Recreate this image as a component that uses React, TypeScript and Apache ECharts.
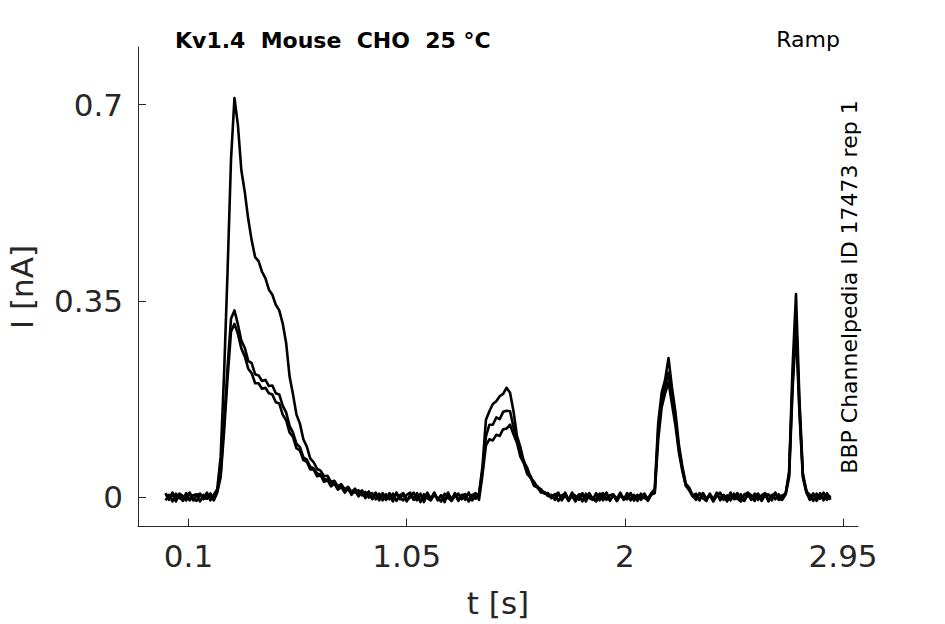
import { useEffect, useRef } from "react";
import * as echarts from "echarts";

// Sampling step of the stored sweeps (s); sweep values are in pA
const DT = 0.015;

const sweepA = [
  6, -5, 8, -3, 5, -7, 2, 7, -6, 3, 6, -4, 8, -6, 4,
  14, 72, 222, 403, 602, 712, 664, 583, 544, 496, 458, 428, 421, 402, 390, 370, 361, 343, 333, 310,
  275, 215, 183, 147, 131, 103, 90, 69, 62, 50, 47, 37, 38, 27, 29, 19, 23, 14, 18, 9, 15, 5, 12, 2, 10, -3, 8, -4, 7, -5,
  7, -6, 8, -4, 6, -8, 4, -3, 7, -9, 5, -2, -6, 8, -4, 3, -9, 6, -3, 5, -7, 4, -5, 8, -6, 2, 6,
  55, 138, 153, 166, 171, 180, 184, 195, 186, 153, 109, 89, 63, 52, 34, 27, 17, 14, 6, 7, -2,
  5, -7, 3, 6, -5, 8, -3, 4, -8, 6, -2, -5, 7, -6, 3, 5, -7, 4, -3, 8, -5, 2, 6, -6, 4, -4, 5, -3, 7,
  14, 132, 186, 209, 248, 195, 152, 94, 55, 24, 17, 3,
  6, -5, 7, -4, 3, -8, 6, -3, 4, -6, 8, -4, -2, 5, -7, 4, -3, 6, -5, 3, 7, -6, 4, -4, 5, -3, 6,
  45, 230, 362, 175, 42, 12,
  -5, 6, -4, 7, -6, 4, -3,
];

const sweepB = [
  -6, 4, -8, 6, -2, -5, 7, -6, 3, 5, -8, 4, -3, 6, -5,
  10, 43, 133, 232, 318, 333, 308, 279, 266, 243, 239, 219, 217, 207, 209, 198, 199, 185, 183, 163,
  151, 127, 115, 95, 89, 71, 67, 54, 51, 42, 40, 32, 31, 24, 24, 19, 18, 14, 13, 10, 8, 12, 3, 9, -1, 7, -4, 6, -6, 5,
  -4, 6, -7, 3, 7, -5, -1, 8, -6, 4, -4, 8, -5, 3, -2, -8, 6, -2, -6, 7, -4, 3, 5, -7, 4, -3, 6,
  47, 108, 129, 129, 142, 139, 152, 154, 153, 125, 103, 76, 65, 43, 37, 20, 19, 9, 9, 2, 4,
  -5, 6, -3, 8, -6, 2, -8, 5, 4, -6, 7, -3, -8, 4, 7, -5, 3, 5, -7, 3, -4, 7, -6, 4, -7, 6, -2, -5, 6,
  9, 117, 174, 197, 222, 178, 139, 86, 50, 22, 14, 2,
  -5, 7, -2, -7, 6, -4, 8, -6, 3, -8, 5, -2, 7, -5, -6, 8, 3, -7, 5, -4, 6, -8, 2, 7, -5, 3, 6,
  40, 205, 322, 160, 38, 10,
  4, -7, 6, -3, 8, -5, 3,
];

const sweepC = [
  7, -3, 5, -8, 6, 2, -6, 8, -4, -7, 5, -2, -3, 6, -6,
  8, 36, 118, 212, 295, 309, 291, 265, 251, 229, 221, 203, 203, 193, 195, 185, 183, 169, 167, 147,
  137, 115, 107, 87, 83, 66, 63, 49, 49, 37, 39, 27, 30, 19, 24, 13, 18, 8, 15, 4, 12, 1, 10, -2, 8, -4, 7, -6, 6, -5,
  5, -8, 7, -2, -6, 4, 8, -5, -3, 6, -9, 5, -2, 7, -6, 3, -5, 8, -7, 2, 6, -4, 5, -8, 3, 7, -5,
  40, 92, 103, 101, 111, 109, 121, 122, 129, 112, 97, 72, 60, 41, 34, 20, 17, 8, 8, 2, 1,
  4, 8, -6, 3, -7, 6, 2, -5, 7, -8, 4, -3, -4, 6, -6, 8, -5, 3, -7, 5, -2, -4, 7, -6, 3, -5, 6, -7, 4,
  7, 102, 160, 185, 205, 166, 128, 80, 47, 20, 12, 1,
  3, -6, 7, -3, 5, -7, 2, 8, -5, 3, -6, 6, -3, -8, 5, 7, -5, 2, 6, -7, 3, 5, -6, 8, -4, -5, 5,
  35, 190, 300, 150, 35, 8,
  -4, 6, -7, 5, -3, 7, -5,
];

const xTicks = [0.1, 1.05, 2, 2.95];
const xTickLabels = ["0.1", "1.05", "2", "2.95"];
const yTicks = [0, 0.35, 0.7];
const yTickLabels = ["0", "0.35", "0.7"];

const titleText = "Kv1.4  Mouse  CHO  25 °C";
const protocolText = "Ramp";
const sourceText = "BBP Channelpedia ID 17473 rep 1";
const xName = "t [s]";
const yName = "I [nA]";

function toPairs(vals: number[]) {
  return vals.map((v, i) => [Number((i * DT).toFixed(4)), v / 1000]);
}

function labelFor(ticks: number[], labels: string[], v: number) {
  const k = ticks.findIndex((t) => Math.abs(t - v) < 1e-6);
  return k >= 0 ? labels[k] : "";
}

export default function App() {
  const ref = useRef<HTMLDivElement>(null);

  useEffect(() => {
    if (!ref.current) return;
    const chart = echarts.init(ref.current, null, { renderer: "svg" });
    const axisColor = "#262626";
    const fam = "'DejaVu Sans', sans-serif";

    const textEl = (
      text: string,
      x: number,
      y: number,
      size: number,
      align: string,
      opts: { bold?: boolean; rotation?: number; color?: string } = {}
    ) => ({
      type: "text",
      x,
      y,
      rotation: opts.rotation || 0,
      silent: true,
      style: {
        text,
        fontSize: size,
        fontFamily: fam,
        fontWeight: opts.bold ? "bold" : "normal",
        fill: opts.color || "#000",
        align,
        verticalAlign: "middle",
        textAlign: align,
        textVerticalAlign: "middle",
      },
    });

    chart.setOption({
      animation: false,
      backgroundColor: "#ffffff",
      grid: { left: 138, right: 87, top: 47, bottom: 97.5, containLabel: false },
      xAxis: {
        type: "value",
        min: -0.12,
        max: 3.015,
        axisLine: { onZero: false, lineStyle: { color: axisColor, width: 1 } },
        axisTick: {
          inside: true,
          length: 8,
          customValues: xTicks,
          lineStyle: { color: axisColor, width: 1 },
        },
        axisLabel: {
          customValues: xTicks,
          formatter: (v: number) => labelFor(xTicks, xTickLabels, v),
          fontSize: 31,
          fontFamily: fam,
          color: axisColor,
          margin: 14,
        },
        splitLine: { show: false },
      },
      yAxis: {
        type: "value",
        min: -0.0526,
        max: 0.803,
        axisLine: { onZero: false, lineStyle: { color: axisColor, width: 1 } },
        axisTick: {
          inside: true,
          length: 8,
          customValues: yTicks,
          lineStyle: { color: axisColor, width: 1 },
        },
        axisLabel: {
          customValues: yTicks,
          formatter: (v: number) => labelFor(yTicks, yTickLabels, v),
          fontSize: 31,
          fontFamily: fam,
          color: axisColor,
          margin: 15,
        },
        splitLine: { show: false },
      },
      series: [sweepA, sweepB, sweepC].map((s) => ({
        type: "line",
        data: toPairs(s),
        showSymbol: false,
        symbol: "none",
        silent: true,
        lineStyle: { color: "#000000", width: 2.6, join: "round" },
      })),
      graphic: [
        textEl(titleText, 175, 40, 22, "left", { bold: true }),
        textEl(protocolText, 840, 39, 22, "right"),
        textEl(sourceText, 849, 287, 22, "center", { rotation: Math.PI / 2 }),
        textEl(yName, 22, 287, 31, "center", { rotation: Math.PI / 2, color: axisColor }),
        textEl(xName, 498, 603, 31, "center", { color: axisColor }),
      ],
    });

    return () => chart.dispose();
  }, []);

  return (
    <div
      ref={ref}
      style={{ position: "absolute", left: 0, top: 0, width: 945, height: 624 }}
    />
  );
}
